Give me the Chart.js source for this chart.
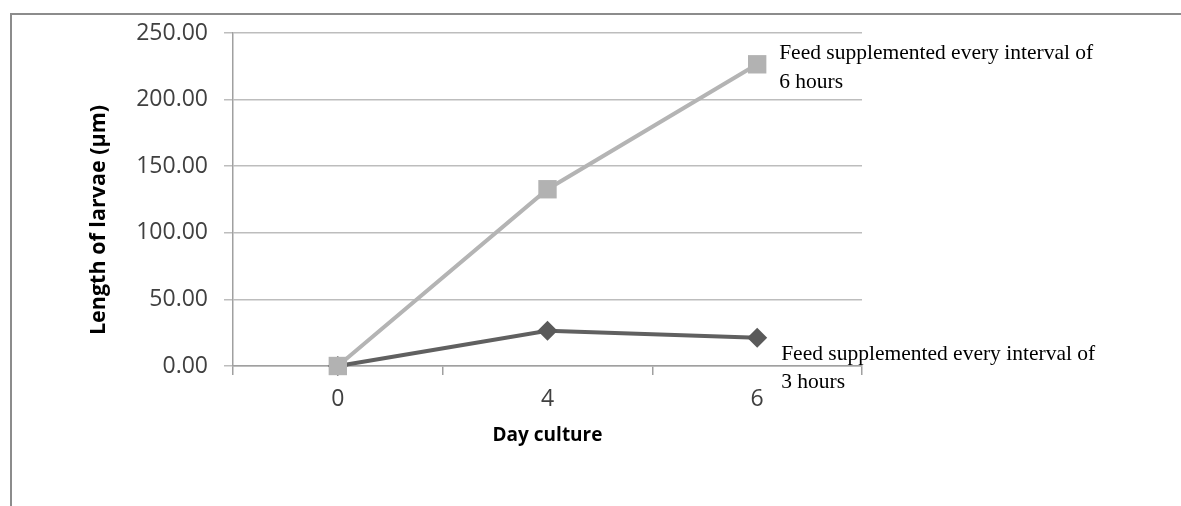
<!DOCTYPE html>
<html><head><meta charset="utf-8">
<script src="https://cdn.jsdelivr.net/npm/chart.js@4/dist/chart.umd.min.js"></script>
<style>
html,body{margin:0;padding:0;background:#fff;overflow:hidden;}
#wrap{position:relative;width:1181px;height:506px;overflow:hidden;}
#frame{position:absolute;left:10px;top:13px;width:1300px;height:700px;border-left:2px solid #8c8c8c;border-top:2px solid #8c8c8c;}
canvas{position:absolute;left:0;top:0;}
</style></head><body>
<div id="wrap"><div id="frame"></div><canvas id="c" width="1181" height="506"></canvas></div>
<script>
const categories = ['0', '4', '6'];
const every6h = [0, 132.7, 226.5];
const every3h = [0, 26.5, 21.3];
const label6h = ['Feed supplemented every interval of', '6 hours'];
const label3h = ['Feed supplemented every interval of', '3 hours'];
const yTickValues = [0, 50, 100, 150, 200, 250];
const yTitle = 'Length of larvae (\u00b5m)';
const xTitle = 'Day culture';

const annotations = {
  id: 'annotations',
  afterDatasetsDraw(chart) {
    const ctx = chart.ctx;
    ctx.save();
    ctx.fillStyle = '#000';
    ctx.font = '21.5px "Liberation Serif", "Times New Roman", serif';
    ctx.textAlign = 'left';
    ctx.textBaseline = 'alphabetic';
    const specs = [
      {ds: 0, lines: label6h, dx: 22, dy: -5, lh: 29},
      {ds: 1, lines: label3h, dx: 24, dy: 22, lh: 28}
    ];
    specs.forEach(s => {
      const meta = chart.getDatasetMeta(s.ds);
      const pt = meta.data[meta.data.length - 1];
      s.lines.forEach((t, i) => ctx.fillText(t, pt.x + s.dx, pt.y + s.dy + i * s.lh));
    });
    // y axis title
    ctx.translate(99, 220);
    ctx.rotate(-Math.PI / 2);
    ctx.textAlign = 'center';
    ctx.textBaseline = 'middle';
    ctx.font = 'bold 21.5px "Open Sans", sans-serif';
    ctx.fillText(yTitle, 0, 0);
    ctx.restore();
  }
};

new Chart(document.getElementById('c'), {
  type: 'line',
  data: {
    labels: categories,
    datasets: [
      {
        label: label6h.join(' '),
        data: every6h,
        borderColor: '#b4b4b4',
        backgroundColor: '#b2b2b2',
        borderWidth: 4,
        pointStyle: 'rect',
        pointRadius: 13,
        pointBorderWidth: 0,
        tension: 0,
        clip: false,
        order: 0
      },
      {
        label: label3h.join(' '),
        data: every3h,
        borderColor: '#606060',
        backgroundColor: '#5a5a5a',
        borderWidth: 4,
        pointStyle: 'rectRot',
        pointRadius: 10,
        pointBorderWidth: 0,
        tension: 0,
        clip: false,
        order: 1
      }
    ]
  },
  options: {
    responsive: false,
    animation: false,
    layout: {padding: {left: 88, top: 33, right: 319, bottom: 59}},
    plugins: {legend: {display: false}, tooltip: {enabled: false}},
    scales: {
      x: {
        offset: true,
        afterFit(s) { s.height = 81; },
        grid: {offset: true, drawOnChartArea: false, drawTicks: true, tickLength: 9, color: '#a0a0a0', lineWidth: 1.5},
        border: {color: '#a0a0a0', width: 1.5},
        ticks: {color: '#404040', font: {family: '"Open Sans", sans-serif', size: 23}, padding: 11},
        title: {display: true, text: xTitle, color: '#000', font: {family: '"Open Sans", sans-serif', size: 19, weight: 'bold'}, padding: {top: 0, bottom: 0}}
      },
      y: {
        min: 0, max: 250,
        afterFit(s) { s.width = 145; },
        afterBuildTicks(s) { s.ticks = yTickValues.map(v => ({value: v})); },
        grid: {color: '#bdbdbd', lineWidth: 1.5, tickLength: 9, drawTicks: true},
        border: {color: '#a0a0a0', width: 1.5},
        ticks: {color: '#404040', font: {family: '"Open Sans", sans-serif', size: 23}, padding: 16, callback: v => Number(v).toFixed(2)}
      }
    }
  },
  plugins: [annotations]
});
</script>
</body></html>
